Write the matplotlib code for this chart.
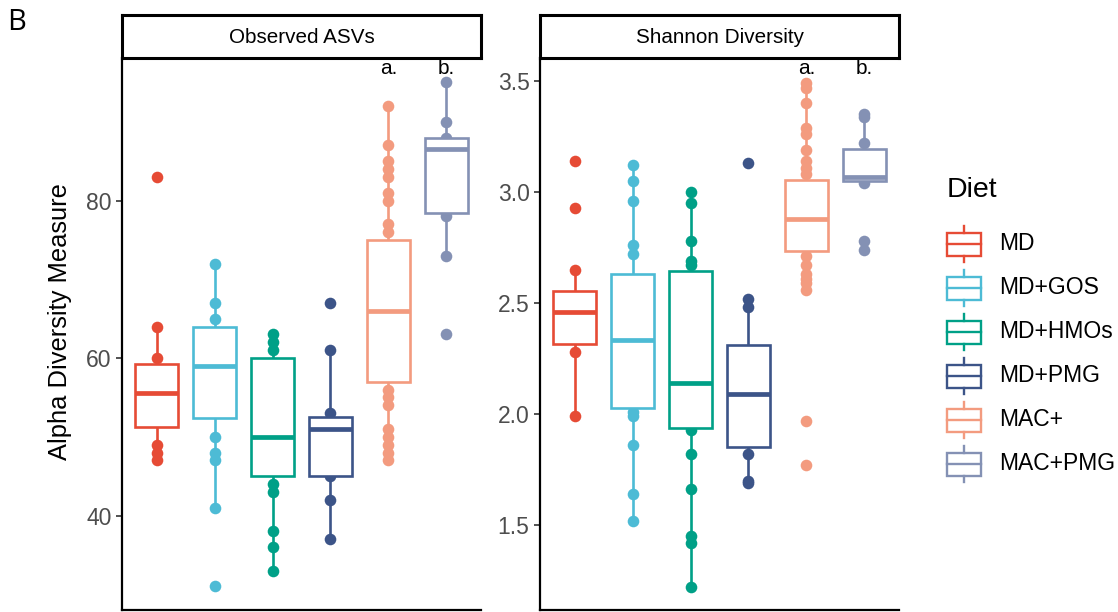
import numpy as np
import matplotlib
matplotlib.use("Agg")
import matplotlib.pyplot as plt
from matplotlib.patches import Rectangle

plt.rcParams['font.family'] = ['Liberation Sans', 'DejaVu Sans']

# ---------------- data ----------------
diets = ["MD", "MD+GOS", "MD+HMOs", "MD+PMG", "MAC+", "MAC+PMG"]
colors = ["#E64B35", "#4DBBD5", "#00A087", "#3C5488", "#F39B7F", "#8491B4"]
panel_titles = ["Observed ASVs", "Shannon Diversity"]
y_label = "Alpha Diversity Measure"
legend_title = "Diet"
sig_labels = ["a.", "b."]          # placed above MAC+ and MAC+PMG

# Observed ASVs: box statistics
obs_q1 = [51.2, 52.4, 45.0, 45.0, 57.0, 78.4]
obs_med = [55.5, 59.0, 50.0, 51.0, 66.0, 86.5]
obs_q3 = [59.2, 64.0, 60.0, 52.5, 75.0, 87.9]
obs_wlo = [47.0, 41.0, 33.0, 37.0, 47.0, 73.0]
obs_whi = [64.0, 72.0, 63.0, 61.0, 92.0, 95.0]
# Observed ASVs: visible sample points
obs_md = [83, 64, 60, 49, 48, 47]
obs_gos = [72, 67, 65, 50, 48, 47, 41, 31]
obs_hmo = [63, 62, 61, 44, 43, 38, 36, 33]
obs_pmg = [67, 61, 53, 45, 42, 37]
obs_mac = [92, 87, 85, 84, 83, 81, 80, 77, 76, 56, 55, 54, 51, 50, 49, 48, 47]
obs_macpmg = [95, 90, 88, 78, 73, 63]
obs_points = [obs_md, obs_gos, obs_hmo, obs_pmg, obs_mac, obs_macpmg]
obs_ticks = [40, 60, 80]

# Shannon: box statistics
sha_q1 = [2.314, 2.028, 1.936, 1.850, 2.734, 3.051]
sha_med = [2.461, 2.333, 2.141, 2.089, 2.880, 3.069]
sha_q3 = [2.555, 2.631, 2.644, 2.311, 3.054, 3.194]
sha_wlo = [1.99, 1.52, 1.22, 1.69, 2.56, 3.04]
sha_whi = [2.65, 3.12, 3.00, 2.52, 3.49, 3.35]
# Shannon: visible sample points
sha_md = [3.14, 2.93, 2.65, 2.28, 1.99]
sha_gos = [3.12, 3.05, 2.96, 2.76, 2.72, 2.01, 1.99, 1.86, 1.64, 1.52]
sha_hmo = [3.00, 2.95, 2.78, 2.69, 2.67, 1.93, 1.82, 1.66, 1.45, 1.42, 1.22]
sha_pmg = [3.13, 2.52, 2.48, 1.82, 1.70, 1.69]
sha_mac = [3.49, 3.47, 3.40, 3.29, 3.26, 3.19, 3.14, 3.11, 3.08,
           2.71, 2.67, 2.63, 2.61, 2.59, 2.56, 1.97, 1.77]
sha_macpmg = [3.35, 3.34, 3.22, 3.04, 2.78, 2.74]
sha_points = [sha_md, sha_gos, sha_hmo, sha_pmg, sha_mac, sha_macpmg]
sha_ticks = [1.5, 2.0, 2.5, 3.0, 3.5]

# ---------------- figure ----------------
W, H = 1118, 612
fig = plt.figure(figsize=(W / 100, H / 100), dpi=100)


def px_axes(x0, y0, x1, y1):
    return fig.add_axes([x0 / W, 1 - y1 / H, (x1 - x0) / W, (y1 - y0) / H])


def draw_panel(ax, q1, med, q3, wlo, whi, pts, ticks, ylim, title, sig_y):
    pos = np.arange(1, len(diets) + 1)
    stats = [dict(q1=a, med=b, q3=c, whislo=d, whishi=e, fliers=[])
             for a, b, c, d, e in zip(q1, med, q3, wlo, whi)]
    bp = ax.bxp(stats, positions=pos, widths=0.75, patch_artist=True,
                showfliers=False, showcaps=False)
    for i, col in enumerate(colors):
        box = bp['boxes'][i]
        box.set_facecolor('white')
        box.set_edgecolor(col)
        box.set_linewidth(1.9)
        box.set_zorder(3)
        m = bp['medians'][i]
        m.set_color(col)
        m.set_linewidth(3.4)
        m.set_zorder(4)
        m.set_solid_capstyle('butt')
        for w in bp['whiskers'][2 * i:2 * i + 2]:
            w.set_color(col)
            w.set_linewidth(1.9)
            w.set_zorder(1)
        ax.scatter(np.full(len(pts[i]), pos[i]), pts[i], s=70, color=col,
                   linewidths=0, zorder=2)
    ax.set_xlim(0.4, 6.6)
    ax.set_ylim(*ylim)
    ax.set_xticks([])
    ax.set_yticks(ticks)
    ax.set_yticklabels([f"{t:g}" if isinstance(t, int) else f"{t:.1f}" for t in ticks])
    for s in ['top', 'right']:
        ax.spines[s].set_visible(False)
    for s in ['left', 'bottom']:
        ax.spines[s].set_linewidth(1.6)
        ax.spines[s].set_color('black')
    ax.tick_params(axis='y', length=4, width=1.2, color='#333333',
                   labelcolor='#4D4D4D', labelsize=16.5, pad=3.5)
    ax.text(5, sig_y, sig_labels[0], ha='center', va='baseline', fontsize=15)
    ax.text(6, sig_y, sig_labels[1], ha='center', va='baseline', fontsize=15)
    # strip
    strip = ax.inset_axes([0, 1.0, 1, 43 / 552])
    strip.set_xticks([])
    strip.set_yticks([])
    for s in strip.spines.values():
        s.set_linewidth(2.2)
        s.set_color('black')
    strip.text(0.5, 0.48, title, ha='center', va='center', fontsize=14.9,
               transform=strip.transAxes)


ax1 = px_axes(122, 58, 481, 610)
draw_panel(ax1, obs_q1, obs_med, obs_q3, obs_wlo, obs_whi, obs_points,
           obs_ticks, (28.0, 98.1), panel_titles[0], 96.1)

ax2 = px_axes(540, 58, 899, 610)
draw_panel(ax2, sha_q1, sha_med, sha_q3, sha_wlo, sha_whi, sha_points,
           sha_ticks, (1.117, 3.604), panel_titles[1], 3.532)

fig.text(60 / W, 1 - 322 / H, y_label, rotation=90, ha='center', va='center',
         fontsize=18.4, color='black')

fig.text(7 / W, 1 - 23 / H, "B", ha='left', va='center', fontsize=21,
         family=['Open Sans', 'DejaVu Sans'])

# ---------------- legend ----------------
lax = fig.add_axes([0, 0, 1, 1], zorder=-1)
lax.set_xlim(0, W)
lax.set_ylim(H, 0)
lax.axis('off')
lax.text(947, 190, legend_title, ha='left', va='center', fontsize=20.5)
for i, (lab, col) in enumerate(zip(diets, colors)):
    yc = 244 + 44 * i
    lax.add_patch(Rectangle((946.5, yc - 11.5), 34, 23, fill=False,
                            edgecolor=col, linewidth=1.7))
    lax.plot([946.5, 980.5], [yc, yc], color=col, lw=1.7)
    lax.plot([963.5, 963.5], [yc - 18, yc - 11.5], color=col, lw=1.7)
    lax.plot([963.5, 963.5], [yc + 11.5, yc + 18], color=col, lw=1.7)
    lax.text(999, yc, lab, ha='left', va='center', fontsize=16.5)

fig.savefig("out.png", dpi=100)
